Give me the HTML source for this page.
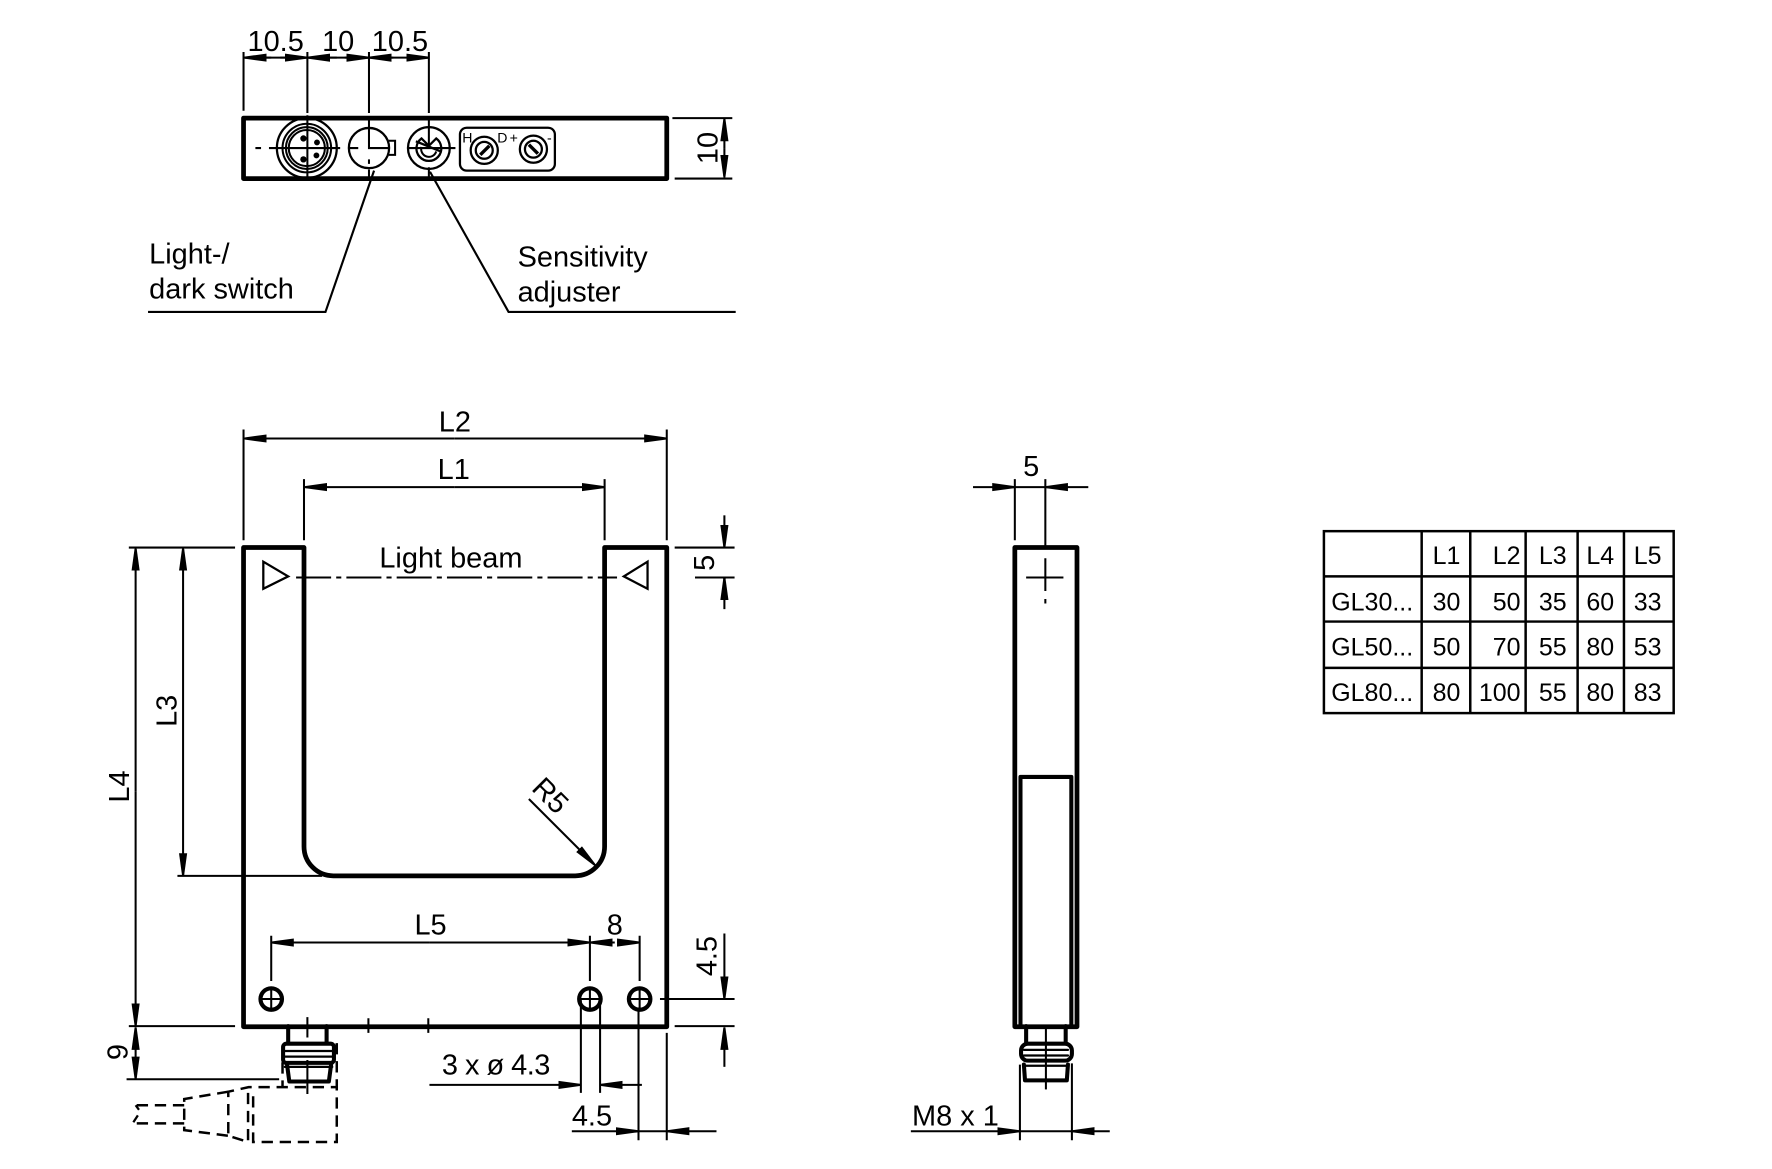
<!DOCTYPE html>
<html><head><meta charset="utf-8"><style>
html,body{margin:0;padding:0;background:#fff;width:1772px;height:1169px;overflow:hidden}
svg{display:block}
text{font-family:"Liberation Sans",sans-serif;font-size:25.6px;fill:#000}
.t text{font-size:22.1px}
.k{stroke:#000;stroke-width:4.2;fill:none;stroke-linejoin:round;stroke-linecap:round}
.n{stroke:#000;stroke-width:1.8;fill:none}
.d{stroke:#000;stroke-width:2.2;fill:none;stroke-dasharray:10 6}
.a{marker-end:url(#a)}
</style></head><body>
<svg width="1772" height="1169" viewBox="0 0 1568 1034.4" xmlns="http://www.w3.org/2000/svg">
<defs><marker id="a" markerUnits="userSpaceOnUse" viewBox="0 0 20 8" refX="20" refY="4" markerWidth="20" markerHeight="8" orient="auto"><path d="M0,.4 L19,3 L20,4 L19,5 L0,7.6 z" fill="#000"/></marker></defs>
<rect width="1568" height="1035" fill="#fff"/>

<!-- TOP VIEW -->
<rect class="k" x="215.5" y="104.5" width="374.5" height="53.5"/>
<g class="n">
<path d="M215.5,46V98M272,46V100M326.5,46V100M379.5,46V100"/>
<path class="a" d="M240,51H216"/><path class="a" d="M248,51H272"/>
<path class="a" d="M298,51H272"/><path class="a" d="M305,51H326.5"/>
<path class="a" d="M348,51H326.5"/><path class="a" d="M360,51H379.5"/>
<path d="M216,51H379"/>
</g>
<text x="219" y="45">10.5</text><text x="285" y="45">10</text><text x="329" y="45">10.5</text>
<g class="n">
<path d="M226,131H231M238,131H301M309,131H317M326.5,104V131H345M326.5,141V145M326.5,150V158M361,131H403M379.5,104V130M272,102V158M379.5,148V158"/>
<circle cx="271.5" cy="131" r="26.5" stroke-width="2"/><circle cx="271.5" cy="131" r="21.5"/><circle cx="271.5" cy="131" r="18.5"/><circle cx="271.5" cy="131" r="16"/>
<circle cx="326.5" cy="131" r="17.8" stroke-width="2"/>
<path d="M344,124.5H349.6V137H344" stroke-width="1.8"/>
<circle cx="379.5" cy="131" r="18.5" stroke-width="2"/>
<path stroke-width="2" d="M386,122.5A11,11 0 1 1 373,122.5L379.5,129ZM368,125L390,134"/>
<path stroke-width="1.8" d="M373,130A6.5,6.5 0 0 0 386,134"/>
<rect x="407" y="113" width="84" height="38" rx="6" stroke-width="2"/>
<circle cx="428.5" cy="133" r="12" stroke-width="2"/><circle cx="428.5" cy="133" r="7.5" stroke-width="2"/><path d="M425,137L433,129" stroke-width="3"/>
<circle cx="472" cy="132" r="12" stroke-width="2"/><circle cx="472" cy="132" r="7.5" stroke-width="2"/><path d="M468,128L476,136" stroke-width="3"/>
</g>
<g fill="#000"><circle cx="268.5" cy="122.5" r="2.8"/><circle cx="280.5" cy="126" r="2.6"/><circle cx="280" cy="137.5" r="2.6"/><circle cx="268.5" cy="141" r="2.8"/></g>
<text x="409" y="126" style="font-size:12.5px">H</text><text x="440" y="126" style="font-size:12.5px">D</text><text x="451" y="126" style="font-size:12.5px">+</text><text x="484" y="126" style="font-size:12.5px">-</text>
<g class="n" style="stroke-width:1.9"><path d="M331,151L288,276H131M380.5,152L450,276H651"/></g>
<text x="132" y="233">Light-/</text><text x="132" y="264">dark switch</text>
<text x="458" y="236">Sensitivity</text><text x="458" y="267">adjuster</text>
<g class="n"><path d="M595,104.5H648M597,158H648"/><path class="a" d="M641,131V105"/><path class="a" d="M641,131V157"/></g>
<text transform="translate(635,131) rotate(-90)" text-anchor="middle">10</text>

<!-- MAIN VIEW -->
<path class="k" d="M215.5,484.5H269V749A26,26 0 0 0 295,775H509A26,26 0 0 0 535,749V484.5H590V908.5H215.5Z"/>
<g class="n">
<path d="M215.5,380V478M590,380V478M269,424V478M535,424V478"/>
<path class="a" d="M402,388H216"/><path class="a" d="M402,388H590"/>
<path class="a" d="M402,431H269.5"/><path class="a" d="M402,431H535"/>
<path stroke-dasharray="31 4.5 4.5 4.5" d="M262,511H546"/>
<path stroke-width="2" d="M233,497L255,510L233,521ZM573,497L552,510L573,521Z"/>
<path d="M597,484.5H650M615,511H650"/>
<path class="a" d="M641,456V484.5"/><path class="a" d="M641,539V511"/>
<path d="M114,484.5H208M157,484.5H206M114,908H208M157,775H285M112,955H247"/>
<path class="a" d="M120,700V485"/><path class="a" d="M120,700V908"/>
<path class="a" d="M162,630V485"/><path class="a" d="M162,630V775"/>
<path class="a" d="M120,930V909"/><path class="a" d="M120,930V955"/>
<path d="M240,828V868M522,828V868M566,828V868"/>
<path class="a" d="M380,834H240"/><path class="a" d="M380,834H522"/>
<path class="a" d="M544,834H522"/><path class="a" d="M546,834H566"/>
<path d="M584,884H650M597,908H650"/>
<path class="a" d="M641,826V884"/><path class="a" d="M641,944V909"/>
<path class="a" d="M468,707L526.5,765.5"/>
<path d="M514,885V967M531,885V967M565,895V1009M590,914V1009"/>
<path class="a" d="M380,960H514"/><path class="a" d="M568,960H531"/>
<path class="a" d="M506,1001H565"/><path class="a" d="M634,1001H590"/>
<path d="M565,1001H590"/>
</g>
<text x="402.5" y="382" text-anchor="middle">L2</text>
<text x="401.5" y="424" text-anchor="middle">L1</text>
<text x="399" y="502" text-anchor="middle">Light beam</text>
<text transform="translate(632,498) rotate(-90)" text-anchor="middle">5</text>
<text transform="translate(156,629) rotate(-90)" text-anchor="middle">L3</text>
<text transform="translate(114,696) rotate(-90)" text-anchor="middle">L4</text>
<text transform="translate(113,931) rotate(-90)" text-anchor="middle">9</text>
<text transform="translate(481,710) rotate(45)" text-anchor="middle">R5</text>
<text x="381" y="827" text-anchor="middle">L5</text>
<text x="544" y="827" text-anchor="middle">8</text>
<text transform="translate(634,846) rotate(-90)" text-anchor="middle">4.5</text>
<text x="391" y="951" textLength="96">3 x ø 4.3</text>
<text x="506" y="996">4.5</text>
<g class="n" style="stroke-width:3.7">
<circle cx="240" cy="884" r="9.5"/><circle cx="522" cy="884" r="9.5"/><circle cx="566" cy="884" r="9.5"/>
</g>
<g class="n"><path d="M231,884H249M240,875V893M513,884H531M522,875V893M557,884H575M566,875V893"/></g>

<!-- left connector -->
<g class="n"><path d="M326,901V914M379,901V914M272,900V918M272,938V968"/></g>
<g class="k">
<path d="M255,908V923M289,908V923" style="stroke-width:3.6"/>
<rect x="250.5" y="923.5" width="45" height="17" rx="3" style="stroke-width:3.6"/>
<path d="M254,942L256,957H291L293,942" style="stroke-width:3.6"/>
<path d="M252,930H294M252,935H294M252,944H294" style="stroke-width:2"/>
</g>
<path class="d" d="M298,923V1010.5H224V966M219.5,967V1010.5L202,1005V966L220,962H298M250,940V962M202,966L163,972.5V1000L202,1005M163,978H119M163,994H119"/>
<path class="n" d="M120,978L123,982M122,987L118,993" style="stroke-width:2"/>

<!-- SIDE VIEW -->
<rect class="k" x="898" y="484.5" width="55" height="424"/>
<path class="k" d="M903,908V687.5H948V908" style="stroke-width:3.6"/>
<g class="n">
<path d="M898,424V478M925,424V484"/>
<path class="a" d="M861,431H898"/><path class="a" d="M963,431H925"/><path d="M898,431H925"/>
<path d="M908,511H941M925,494V523M925,530V534"/>
<path d="M925.5,908V964"/>
<path d="M902.5,942V1009M948.5,941V1009"/>
<path class="a" d="M806,1001H902.5"/><path class="a" d="M982,1001H948.5"/><path d="M902.5,1001H948.5"/>
</g>
<text x="912.5" y="421" text-anchor="middle">5</text>
<text x="807" y="996">M8 x 1</text>
<g class="k">
<path d="M908,908V923M943,908V923" style="stroke-width:3.6"/>
<rect x="903.5" y="923.5" width="45" height="15" rx="6" style="stroke-width:3.6"/>
<path d="M906,942L907,956H944L945,942" style="stroke-width:3.6"/>
<path d="M906,929H945M906,934H945M906,943H945" style="stroke-width:2"/>
</g>

<!-- TABLE -->
<g class="n" style="stroke-width:2.2">
<rect x="1171.5" y="470" width="309.5" height="161"/>
<path d="M1171,510H1481M1171,550H1481M1171,591H1481M1258,470V631M1301,470V631M1350,470V631M1396,470V631M1437,470V631"/>
</g>
<g class="t">
<g text-anchor="middle">
<text x="1280" y="499">L1</text><text x="1374" y="499">L3</text><text x="1416" y="499">L4</text><text x="1458" y="499">L5</text>
<text x="1280" y="540">30</text><text x="1374" y="540">35</text><text x="1416" y="540">60</text><text x="1458" y="540">33</text>
<text x="1280" y="580">50</text><text x="1374" y="580">55</text><text x="1416" y="580">80</text><text x="1458" y="580">53</text>
<text x="1280" y="620.5">80</text><text x="1374" y="620.5">55</text><text x="1416" y="620.5">80</text><text x="1458" y="620.5">83</text>
</g>
<g text-anchor="end">
<text x="1345.5" y="499">L2</text><text x="1345.5" y="540">50</text><text x="1345.5" y="580">70</text><text x="1345.5" y="620.5">100</text>
</g>
<text x="1178" y="540">GL30...</text><text x="1178" y="580">GL50...</text><text x="1178" y="620.5">GL80...</text>
</g>
</svg>
</body></html>
